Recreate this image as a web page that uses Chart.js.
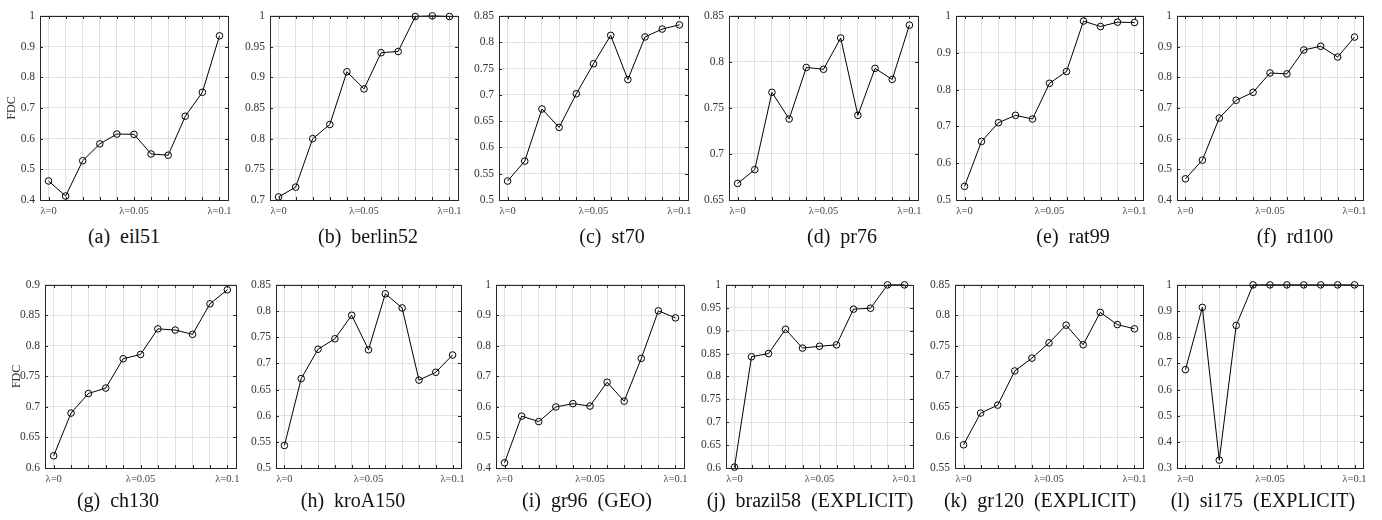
<!DOCTYPE html>
<html>
<head>
<meta charset="utf-8">
<script src="https://cdn.jsdelivr.net/npm/chart.js@4.4.1/dist/chart.umd.min.js"></script>
<style>
  html, body { margin: 0; padding: 0; background: #fff; }
  body { width: 1382px; height: 520px; position: relative; overflow: hidden; font-family: "Liberation Serif", "DejaVu Serif", serif; }
  .box { position: absolute; }
  .cap { position: absolute; transform: translate(-50%, -50%); white-space: pre; font-size: 20px; color: #111; font-family: "Liberation Serif", serif; }
</style>
</head>
<body>
<script>
// ---------- data ----------
const lambdas = [0, 0.01, 0.02, 0.03, 0.04, 0.05, 0.06, 0.07, 0.08, 0.09, 0.1];
const xTickLabels = ['λ=0', 'λ=0.05', 'λ=0.1'];
const xTickValues = [0, 0.05, 0.1];

const eil51    = [0.462, 0.413, 0.528, 0.583, 0.615, 0.614, 0.550, 0.546, 0.673, 0.751, 0.935];
const berlin52 = [0.705, 0.721, 0.800, 0.823, 0.909, 0.881, 0.940, 0.942, 0.999, 1.000, 0.999];
const st70     = [0.536, 0.574, 0.673, 0.638, 0.702, 0.759, 0.813, 0.729, 0.810, 0.825, 0.833];
const pr76     = [0.668, 0.683, 0.767, 0.738, 0.794, 0.792, 0.826, 0.742, 0.793, 0.781, 0.840];
const rat99    = [0.537, 0.659, 0.710, 0.730, 0.720, 0.817, 0.849, 0.986, 0.971, 0.983, 0.982];
const rd100    = [0.469, 0.530, 0.667, 0.725, 0.751, 0.814, 0.811, 0.889, 0.901, 0.866, 0.931];
const ch130    = [0.620, 0.690, 0.722, 0.731, 0.779, 0.786, 0.828, 0.826, 0.819, 0.869, 0.892];
const kroA150  = [0.543, 0.671, 0.727, 0.747, 0.792, 0.726, 0.833, 0.806, 0.668, 0.683, 0.716];
const gr96     = [0.417, 0.570, 0.552, 0.600, 0.611, 0.603, 0.681, 0.619, 0.759, 0.915, 0.892];
const brazil58 = [0.602, 0.843, 0.850, 0.903, 0.862, 0.866, 0.869, 0.947, 0.949, 1.000, 1.000];
const gr120    = [0.588, 0.640, 0.653, 0.709, 0.730, 0.755, 0.784, 0.752, 0.805, 0.785, 0.778];
const si175    = [0.676, 0.914, 0.330, 0.845, 1.000, 1.000, 1.000, 1.000, 1.000, 1.000, 1.000];

const captions = ['(a)  eil51', '(b)  berlin52', '(c)  st70', '(d)  pr76', '(e)  rat99', '(f)  rd100',
                  '(g)  ch130', '(h)  kroA150', '(i)  gr96  (GEO)', '(j)  brazil58  (EXPLICIT)', '(k)  gr120  (EXPLICIT)', '(l)  si175  (EXPLICIT)'];
const seriesList = [eil51, berlin52, st70, pr76, rat99, rd100, ch130, kroA150, gr96, brazil58, gr120, si175];
const yMins  = [0.4, 0.7, 0.5, 0.65, 0.5, 0.4, 0.6, 0.5, 0.4, 0.6, 0.55, 0.3];
const yMaxs  = [1.0, 1.0, 0.85, 0.85, 1.0, 1.0, 0.9, 0.85, 1.0, 1.0, 0.85, 1.0];
const ySteps = [0.1, 0.05, 0.05, 0.05, 0.1, 0.1, 0.05, 0.05, 0.1, 0.05, 0.05, 0.1];
const yTitle = 'FDC';

// ---------- layout (pixel geometry of each panel) ----------
const plotLeft  = [40, 270, 499, 729, 956, 1177, 45, 276, 496, 726, 955, 1177];
const plotRight = [228, 458, 688, 918, 1143, 1363, 236, 461, 684, 913, 1143, 1363];
const plotTop   = [12, 12, 12, 12, 12, 12, 281, 281, 281, 281, 281, 281];
const plotBot   = [200, 200, 200, 200, 200, 200, 468, 468, 468, 468, 468, 468];
const capX      = [124, 368, 612, 842, 1073, 1295, 118, 353, 587, 810, 1040, 1263];
const capY      = [236, 236, 236, 236, 236, 236, 500, 500, 500, 500, 500, 500];

const AXW = 40, PADT = 8, PADR = 16, AXH = 24;
const FONT = "'Liberation Serif', 'DejaVu Serif', serif";

const framePlugin = {
  id: 'frame',
  afterDraw(chart) {
    const ctx = chart.ctx, a = chart.chartArea;
    const xs = chart.scales.x, ys = chart.scales.y;
    ctx.save();
    ctx.strokeStyle = '#262626';
    ctx.lineWidth = 1;
    ctx.beginPath();
    const tl = 3;
    xs.ticks.forEach(t => {
      const px = Math.round(xs.getPixelForValue(t.value)) + 0.5;
      ctx.moveTo(px, a.bottom); ctx.lineTo(px, a.bottom - tl);
      ctx.moveTo(px, a.top); ctx.lineTo(px, a.top + tl);
    });
    ys.ticks.forEach(t => {
      const py = Math.round(ys.getPixelForValue(t.value)) + 0.5;
      ctx.moveTo(a.left, py); ctx.lineTo(a.left + tl, py);
      ctx.moveTo(a.right, py); ctx.lineTo(a.right - tl, py);
    });
    ctx.stroke();
    ctx.strokeRect(Math.round(a.left) + 0.5, Math.round(a.top) + 0.5, Math.round(a.right - a.left), Math.round(a.bottom - a.top));
    ctx.restore();
  }
};

function fmtY(v) { return String(parseFloat(v.toFixed(3))); }

seriesList.forEach((vals, i) => {
  const w = plotRight[i] - plotLeft[i], h = plotBot[i] - plotTop[i];
  const div = document.createElement('div');
  div.className = 'box';
  div.style.left = (plotLeft[i] - AXW) + 'px';
  div.style.top = (plotTop[i] - PADT) + 'px';
  div.style.width = (w + AXW + PADR) + 'px';
  div.style.height = (h + PADT + AXH) + 'px';
  const cv = document.createElement('canvas');
  div.appendChild(cv);
  document.body.appendChild(div);

  const cap = document.createElement('div');
  cap.className = 'cap';
  cap.textContent = captions[i];
  cap.style.left = capX[i] + 'px';
  cap.style.top = capY[i] + 'px';
  document.body.appendChild(cap);

  const showTitle = (i === 0 || i === 6);

  new Chart(cv, {
    type: 'line',
    data: {
      datasets: [{
        data: lambdas.map((x, k) => ({ x: x, y: vals[k] })),
        borderColor: '#000',
        borderWidth: 1,
        pointRadius: 3.3,
        pointBorderWidth: 1,
        pointBorderColor: '#000',
        pointBackgroundColor: 'rgba(0,0,0,0)',
        tension: 0,
        clip: false
      }]
    },
    options: {
      responsive: true,
      maintainAspectRatio: false,
      animation: false,
      events: [],
      layout: { padding: { top: PADT, right: PADR, left: 0, bottom: 0 } },
      plugins: { legend: { display: false }, tooltip: { enabled: false } },
      scales: {
        x: {
          type: 'linear',
          min: -0.005, max: 0.105,
          afterBuildTicks(s) { s.ticks = lambdas.map(v => ({ value: v })); },
          afterFit(s) { s.height = AXH; },
          grid: { color: '#e0e0e0', lineWidth: 1, drawTicks: false },
          border: { display: false },
          ticks: {
            autoSkip: false,
            maxRotation: 0,
            padding: 5,
            color: '#444',
            font: { family: FONT, size: 10.5 },
            callback(v) {
              const k = xTickValues.findIndex(t => Math.abs(t - v) < 1e-6);
              return k >= 0 ? xTickLabels[k] : '';
            }
          }
        },
        y: {
          min: yMins[i], max: yMaxs[i],
          afterFit(s) { s.width = AXW; },
          grid: { color: '#e0e0e0', lineWidth: 1, drawTicks: false },
          border: { display: false },
          title: { display: showTitle, text: yTitle, color: '#333', font: { family: FONT, size: 12 }, padding: { top: 5, bottom: 0 } },
          ticks: {
            stepSize: ySteps[i],
            padding: 5,
            color: '#333',
            font: { family: FONT, size: 11.5 },
            callback: fmtY
          }
        }
      }
    },
    plugins: [framePlugin]
  });
});
</script>
</body>
</html>
